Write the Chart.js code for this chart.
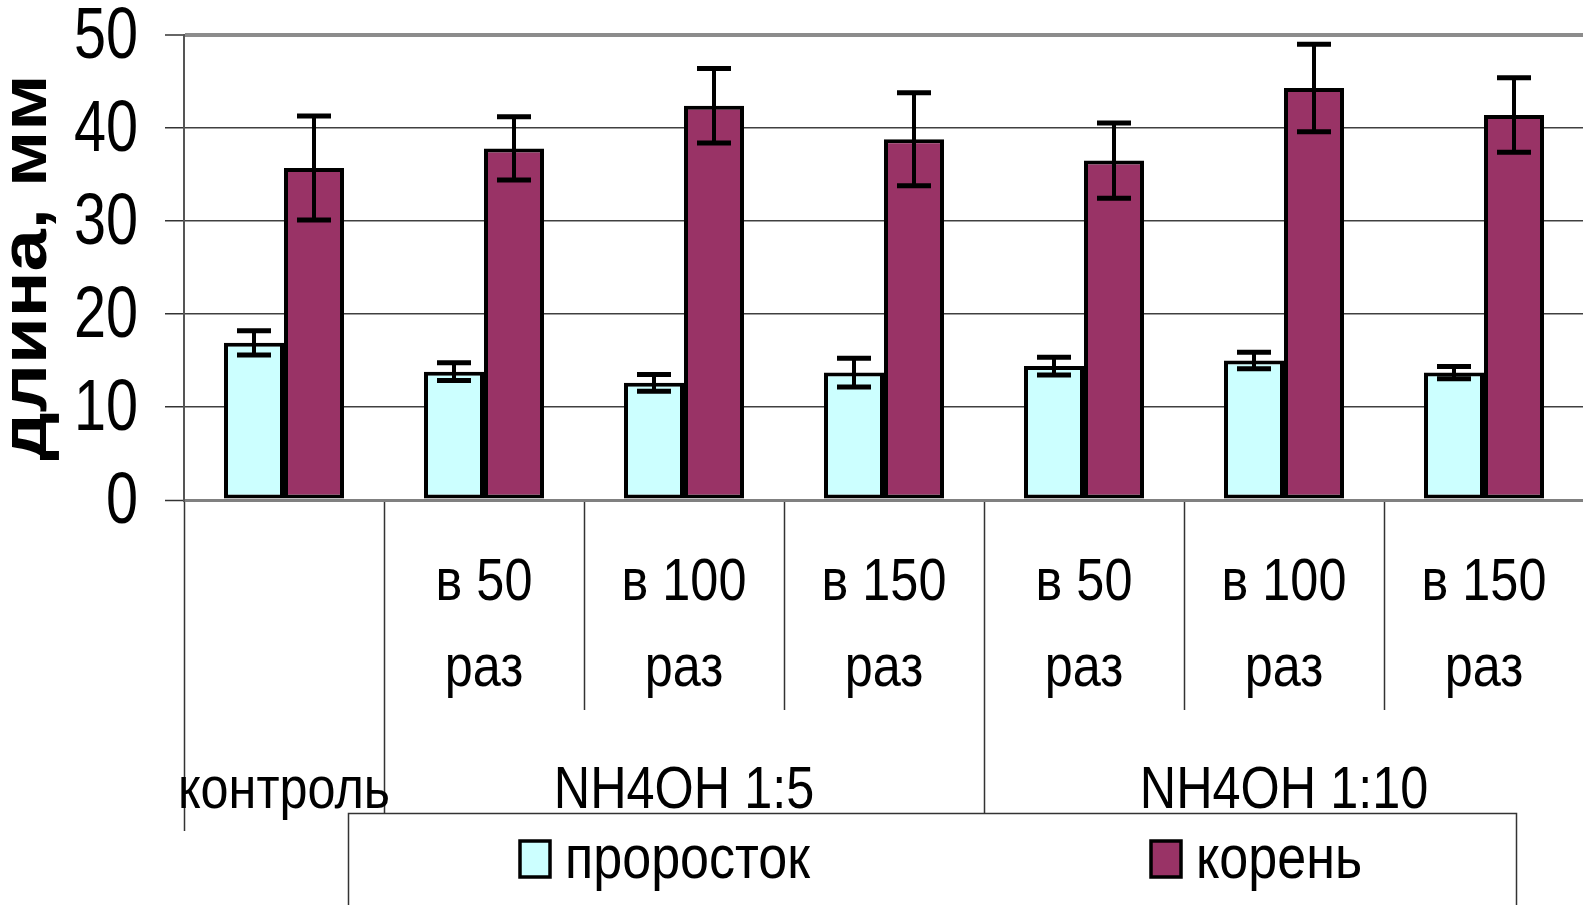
<!DOCTYPE html>
<html lang="ru">
<head>
<meta charset="utf-8">
<title>длина, мм</title>
<script src="https://cdn.jsdelivr.net/npm/chart.js@4.4.1/dist/chart.umd.min.js"></script>
<style>
  html, body { margin: 0; padding: 0; background: #fff; overflow: hidden; }
  #wrap { position: relative; width: 1583px; height: 905px; overflow: hidden; }
</style>
</head>
<body>
<div id="wrap"><canvas id="chart" width="1592" height="905"></canvas></div>
<script>
// x categories (two lines each), groups drawn in the row below them
const categories = ["", ["в 50", "раз"], ["в 100", "раз"], ["в 150", "раз"], ["в 50", "раз"], ["в 100", "раз"], ["в 150", "раз"]];
const groupLabels = ["контроль", "NH4OH 1:5", "NH4OH 1:10"];
const groupFirst = [0, 1, 4];
const groupLast = [0, 3, 6];

const seriesNames = ["проросток", "корень"];
const sproutValues = [16.9, 13.8, 12.6, 13.7, 14.4, 15.0, 13.7];
const sproutErrors = [1.3, 0.95, 0.9, 1.55, 0.95, 0.9, 0.65];
const rootValues = [35.7, 37.8, 42.4, 38.8, 36.5, 44.3, 41.4];
const rootErrors = [5.6, 3.4, 4.0, 5.0, 4.05, 4.7, 4.0];
const yTicks = [0, 10, 20, 30, 40, 50];

const FONT = "'Liberation Sans', Arial, sans-serif";

// no narrow font installed: squeeze plain text sideways,
// the bold (rotated) axis title gets squeezed across its height instead
const canvas = document.getElementById("chart");
const ctx2d = canvas.getContext("2d");
const plainFillText = ctx2d.fillText.bind(ctx2d);
ctx2d.fillText = function (text, x, y, maxWidth) {
  const bold = /bold|700/.test(this.font);
  this.save();
  this.translate(x, y);
  if (bold) this.scale(1, 0.85);
  else if (/^[\d\s]+$/.test(text)) this.scale(0.8, 1);
  else this.scale(0.84, 1);
  plainFillText(text, 0, 0);
  this.restore();
};

const allErrors = [sproutErrors, rootErrors];

// error bars on top of the bars
const errorBars = {
  id: "errorBars",
  afterDatasetsDraw(chart) {
    const ctx = chart.ctx;
    const y = chart.scales.y;
    ctx.save();
    ctx.strokeStyle = "#000";
    chart.data.datasets.forEach((ds, di) => {
      const meta = chart.getDatasetMeta(di);
      meta.data.forEach((bar, i) => {
        const v = ds.data[i];
        const e = allErrors[di][i];
        const top = y.getPixelForValue(v + e);
        const bottom = y.getPixelForValue(v - e);
        ctx.lineWidth = 4;
        ctx.beginPath();
        ctx.moveTo(bar.x, top);
        ctx.lineTo(bar.x, bottom);
        ctx.stroke();
        ctx.lineWidth = 5;
        ctx.beginPath();
        ctx.moveTo(bar.x - 17, top);
        ctx.lineTo(bar.x + 17, top);
        ctx.moveTo(bar.x - 17, bottom);
        ctx.lineTo(bar.x + 17, bottom);
        ctx.stroke();
      });
    });
    ctx.restore();
  }
};

// table-like x axis: dividers and group captions
const axisTable = {
  id: "axisTable",
  afterDraw(chart) {
    const ctx = chart.ctx;
    const x = chart.scales.x;
    const base = chart.chartArea.bottom;
    const n = categories.length;
    ctx.save();
    ctx.strokeStyle = "#333";
    ctx.lineWidth = 1.5;
    for (let i = 0; i <= n; i++) {
      const px = Math.round(x.getPixelForValue(i - 0.5)) + 0.5;
      let drop = 210;
      if (i === 0) drop = 331;
      else if (groupFirst.includes(i) || i === n) drop = 313;
      ctx.beginPath();
      ctx.moveTo(px, base + 2);
      ctx.lineTo(px, base + drop);
      ctx.stroke();
    }
    ctx.fillStyle = "#000";
    ctx.font = "60px " + FONT;
    ctx.textAlign = "center";
    ctx.textBaseline = "alphabetic";
    groupLabels.forEach((label, g) => {
      const cx = (x.getPixelForValue(groupFirst[g] - 0.5) + x.getPixelForValue(groupLast[g] + 0.5)) / 2;
      ctx.fillText(label, cx, base + 308);
    });
    ctx.restore();
  }
};

// boxed legend under the axis table
const boxLegend = {
  id: "boxLegend",
  afterDraw(chart) {
    const ctx = chart.ctx;
    const box = { left: 348, top: 813, right: 1516, bottom: 920 };
    const itemX = [520, 1151];
    ctx.save();
    ctx.strokeStyle = "#333";
    ctx.lineWidth = 1.5;
    ctx.strokeRect(box.left + 0.5, box.top + 0.5, box.right - box.left, box.bottom - box.top);
    ctx.font = "62px " + FONT;
    ctx.textBaseline = "alphabetic";
    ctx.textAlign = "left";
    chart.data.datasets.forEach((ds, i) => {
      ctx.fillStyle = ds.backgroundColor;
      ctx.fillRect(itemX[i], 841, 30, 36);
      ctx.lineWidth = 3.5;
      ctx.strokeStyle = "#000";
      ctx.strokeRect(itemX[i], 841, 30, 36);
      ctx.fillStyle = "#000";
      ctx.fillText(ds.label, itemX[i] + 45, 878);
    });
    ctx.restore();
  }
};

new Chart(canvas, {
  type: "bar",
  data: {
    labels: categories,
    datasets: [
      {
        label: seriesNames[0],
        data: sproutValues,
        backgroundColor: "#CCFFFF",
        borderColor: "#000",
        borderWidth: 4,
        borderSkipped: false
      },
      {
        label: seriesNames[1],
        data: rootValues,
        backgroundColor: "#993366",
        borderColor: "#000",
        borderWidth: 4,
        borderSkipped: false
      }
    ]
  },
  options: {
    responsive: false,
    animation: false,
    layout: { padding: { left: 0, top: 35, right: 8, bottom: 0 } },
    datasets: { bar: { categoryPercentage: 0.6, barPercentage: 1.0 } },
    plugins: {
      legend: { display: false },
      tooltip: { enabled: false }
    },
    scales: {
      x: {
        grid: { display: false },
        border: { display: true, color: "#808080", width: 3 },
        ticks: {
          color: "#000",
          font: { family: FONT, size: 60, lineHeight: 1.43 },
          padding: 33,
          maxRotation: 0,
          autoSkip: false
        },
        afterFit(scale) {
          scale.height = 405;
          scale.paddingLeft = 0;
          scale.paddingRight = 0;
        }
      },
      y: {
        min: yTicks[0],
        max: yTicks[yTicks.length - 1],
        ticks: {
          stepSize: yTicks[1] - yTicks[0],
          color: "#000",
          font: { family: FONT, size: 72, lineHeight: 1.0 },
          padding: 27,
          labelOffset: 3
        },
        grid: {
          color: c => c.tick.value === 50 ? "#8c8c8c" : (c.tick.value === 0 ? "#808080" : "#404040"),
          lineWidth: c => c.tick.value === 50 ? 4 : (c.tick.value === 0 ? 3 : 1.5),
          tickColor: "#333",
          tickWidth: 1.5,
          tickLength: 19
        },
        border: { display: true, color: "#555", width: 2 },
        title: {
          display: true,
          text: "длина, мм",
          color: "#000",
          font: { family: FONT, size: 76, weight: "bold", lineHeight: 0.73 },
          padding: 0
        },
        afterFit(scale) {
          scale.width = 184;
          scale.paddingTop = 0;
          scale.paddingBottom = 0;
        }
      }
    }
  },
  plugins: [errorBars, axisTable, boxLegend]
});
</script>
</body>
</html>
